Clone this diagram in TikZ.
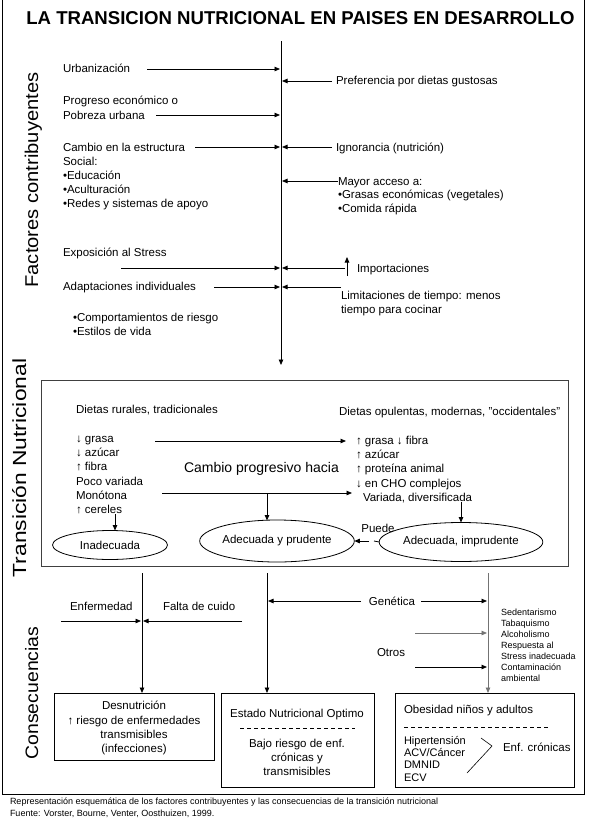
\documentclass[tikz,border=0pt]{standalone}
\usepackage{fontspec}
\setmainfont{Liberation Sans}
\usetikzlibrary{arrows.meta,shapes.geometric}
\newcommand\fsz[2]{\fontsize{#1}{#2}\selectfont}
\begin{document}
\begin{tikzpicture}[x=1pt,y=-1pt,
  every node/.style={inner sep=0pt,outer sep=0pt,font=\fsz{11.5}{14}},
  L/.style={anchor=base west},
  C/.style={anchor=base},
  arr/.style={-{Triangle[length=5.5pt,width=4.5pt]},line width=0.8pt},
  ln/.style={line width=0.8pt},
  side/.style={rotate=90,anchor=base},
  ell/.style={draw,ellipse,line width=0.8pt},
  box/.style={draw,line width=0.8pt,anchor=north west},
  small/.style={L,font=\fsz{9}{11}},
  note/.style={L,font=\fsz{9}{11}}]
\useasboundingbox (0,0) rectangle (589,830);
\draw[ln] (2,0) -- (2,794) -- (584,794) -- (584,0);

% title
\node[C,font=\bfseries\fsz{18.6}{20}] (title) at (300.5,24) {LA TRANSICION NUTRICIONAL EN PAISES EN DESARROLLO};

% side labels
\node[side,font=\fsz{18.5}{20}] (sideA) at (38,180) {\scalebox{1.09}[1]{Factores contribuyentes}};
\node[side,font=\fsz{19}{20}] (sideB) at (26,468) {\scalebox{1.2}[1]{Transición Nutricional}};
\node[side,font=\fsz{18}{20}] (sideC) at (38,693) {\scalebox{1.08}[1]{Consecuencias}};

% main axis
\coordinate (mtop) at (281,41);
\coordinate (mbot) at (281,365);
\draw[arr] (mtop) -- (mbot);

% left factors
\node[L] (urb) at (63,72) {Urbanización};
\coordinate (urbS) at (147,69); \coordinate (urbE) at (280,69);
\draw[arr] (urbS) -- (urbE);

\node[L] (prog1) at (63,104) {Progreso económico o};
\node[L] (prog2) at (63,119) {Pobreza urbana};
\coordinate (progS) at (156,115); \coordinate (progE) at (280,115);
\draw[arr] (progS) -- (progE);

\node[L] (camb1) at (63,151) {Cambio en la estructura};
\node[L] (camb2) at (63,165) {Social:};
\node[L] (camb3) at (63,179) {•Educación};
\node[L] (camb4) at (63,193) {•Aculturación};
\node[L] (camb5) at (63,207) {•Redes y sistemas de apoyo};
\coordinate (cambS) at (195,147); \coordinate (cambE) at (280,147);
\draw[arr] (cambS) -- (cambE);

\node[L] (expo) at (63,256) {Exposición al Stress};
\coordinate (expoS) at (121,268); \coordinate (expoE) at (280,268);
\draw[arr] (expoS) -- (expoE);

\node[L] (adap) at (63,290) {Adaptaciones individuales};
\coordinate (adapS) at (214,287); \coordinate (adapE) at (280,287);
\draw[arr] (adapS) -- (adapE);

\node[L] (comp1) at (73,321) {•Comportamientos de riesgo};
\node[L] (comp2) at (73,335) {•Estilos de vida};

% right factors
\node[L] (pref) at (336,84) {Preferencia por dietas gustosas};
\coordinate (prefS) at (332,81); \coordinate (prefE) at (282,81);
\draw[arr] (prefS) -- (prefE);

\node[L] (ign) at (336,151) {Ignorancia (nutrición)};
\coordinate (ignS) at (332,147); \coordinate (ignE) at (282,147);
\draw[arr] (ignS) -- (ignE);

\node[L] (may1) at (338,185) {Mayor acceso a:};
\node[L] (may2) at (338,198) {•Grasas económicas (vegetales)};
\node[L] (may3) at (338,212) {•Comida rápida};
\coordinate (mayS) at (338,181); \coordinate (mayE) at (282,181);
\draw[arr] (mayS) -- (mayE);

\node[L] (imp) at (357,272) {Importaciones};
\coordinate (impS) at (345,268); \coordinate (impE) at (282,268);
\draw[arr] (impS) -- (impE);
\coordinate (upS) at (347,276); \coordinate (upE) at (347,257);
\draw[arr] (upS) -- (upE);

\node[L] (lim1) at (341,299) {Limitaciones de tiempo: menos};
\node[L] (lim2) at (341,313) {tiempo para cocinar};
\coordinate (limS) at (341,287); \coordinate (limE) at (282,287);
\draw[arr] (limS) -- (limE);

% transition box
\node[box,draw=black!75,minimum width=527pt,minimum height=186pt] (tbox) at (41,380) {};
\node[L] (rural) at (76,413) {Dietas rurales, tradicionales};
\node[L] (opul) at (339,415) {Dietas opulentas, modernas, "occidentales"};

\node[L] (r1) at (76,442) {↓ grasa};
\node[L] (r2) at (76,456) {↓ azúcar};
\node[L] (r3) at (76,470) {↑ fibra};
\node[L] (r4) at (76,485) {Poco variada};
\node[L] (r5) at (76,499) {Monótona};
\node[L] (r6) at (76,513) {↑ cereles};

\node[L] (o1) at (356,444) {↑ grasa ↓ fibra};
\node[L] (o2) at (356,458) {↑ azúcar};
\node[L] (o3) at (356,472) {↑ proteína animal};
\node[L] (o4) at (356,487) {↓ en CHO complejos};
\node[L] (o5) at (363,501) {Variada, diversificada};

\node[L,font=\fsz{14}{16}] (prog) at (184,472) {Cambio progresivo hacia};

\coordinate (a1S) at (155,441); \coordinate (a1E) at (346,441);
\draw[arr] (a1S) -- (a1E);
\coordinate (a2S) at (162,493); \coordinate (a2E) at (352,493);
\draw[arr] (a2S) -- (a2E);

\node[ell,minimum width=115pt,minimum height=29pt] (inad) at (110,545) {Inadecuada};
\node[ell,minimum width=140pt,minimum height=42pt] (adec) at (277,541) {Adecuada y prudente};
\node[ell,minimum width=133pt,minimum height=39pt] (impr) at (461,542) {Adecuada, imprudente};

\coordinate (a2B) at (267,493); \coordinate (a2T) at (267,520.5);
\draw[arr] (a2B) -- (a2T);
\coordinate (cerS) at (115,514);
\draw[arr] (cerS) -- (cerS |- inad.north);
\coordinate (varS) at (461,502);
\draw[arr] (varS) -- (impr.north);

\node[C] (puede) at (378,532) {Puede};
\coordinate (gapA) at (374,541); \coordinate (gapB) at (369,541);
\draw[ln] (impr.west) -- (gapA);
\draw[arr] (gapB) -- (adec.east);

% consequences
\node[box,minimum width=160pt,minimum height=67pt] (b1) at (54,693) {};
\node[box,minimum width=153pt,minimum height=94pt] (b2) at (221,693) {};
\node[box,minimum width=179pt,minimum height=94pt] (b3) at (395,693) {};

\coordinate (v1) at (142,573); \coordinate (v2) at (267,573); \coordinate (v3) at (488,573);
\draw[arr] (v1) -- (v1 |- b1.north);
\draw[arr] (v2) -- (v2 |- b2.north);
\draw[arr,draw=black!55,fill=black!55] (v3) -- (v3 |- b3.north);

\node[L] (enf) at (70,610) {Enfermedad};
\node[L] (falta) at (163,610) {Falta de cuido};
\coordinate (enfS) at (61,621); \coordinate (enfE) at (141,621);
\draw[arr] (enfS) -- (enfE);
\coordinate (faltaS) at (242,621); \coordinate (faltaE) at (143,621);
\draw[arr] (faltaS) -- (faltaE);

\node[C] (gen) at (392,605) {Genética};
\coordinate (genL) at (361,601); \coordinate (genLE) at (268,601);
\draw[arr] (genL) -- (genLE);
\coordinate (genR) at (421,601); \coordinate (genRE) at (487,601);
\draw[arr] (genR) -- (genRE);

\node[L] (otros) at (377,656) {Otros};
\coordinate (o1S) at (415,633); \coordinate (o1E) at (487,633);
\draw[arr,draw=black!55,fill=black!55] (o1S) -- (o1E);
\coordinate (o2S) at (415,667); \coordinate (o2E) at (487,667);
\draw[arr] (o2S) -- (o2E);

\node[small] (s1) at (501,615) {Sedentarismo};
\node[small] (s2) at (501,626) {Tabaquismo};
\node[small] (s3) at (501,637) {Alcoholismo};
\node[small] (s4) at (501,648) {Respuesta al};
\node[small] (s5) at (501,659) {Stress inadecuada};
\node[small] (s6) at (501,670) {Contaminación};
\node[small] (s7) at (501,681) {ambiental};

% box 1
\node[C] (d1) at (134,709) {Desnutrición};
\node[C] (d2) at (134,724) {↑ riesgo de enfermedades};
\node[C] (d3) at (134,738) {transmisibles};
\node[C] (d4) at (134,752) {(infecciones)};

% box 2
\node[C] (e1) at (297,717) {Estado Nutricional Optimo};
\coordinate (e2S) at (240,728); \coordinate (e2E) at (355,728);
\draw[line width=0.6pt,dash pattern=on 3.5pt off 3.5pt] (e2S) -- (e2E);
\node[C] (e3) at (297,747) {Bajo riesgo de enf.};
\node[C] (e4) at (297,761) {crónicas y};
\node[C] (e5) at (297,775) {transmisibles};

% box 3
\node[L] (ob) at (404,713) {Obesidad niños y adultos};
\coordinate (obS) at (404,727); \coordinate (obE) at (551,727);
\draw[line width=0.6pt,dash pattern=on 3.5pt off 3.5pt] (obS) -- (obE);
\node[L,font=\fsz{11}{12}] (h1) at (404,744) {Hipertensión};
\node[L,font=\fsz{11}{12}] (h2) at (404,756) {ACV/Cáncer};
\node[L,font=\fsz{11}{12}] (h3) at (404,768) {DMNID};
\node[L,font=\fsz{11}{12}] (h4) at (404,781) {ECV};
\coordinate (br1) at (481,738); \coordinate (br2) at (492,746); \coordinate (br3) at (467,773);
\draw[line width=0.6pt] (br1) -- (br2) -- (br3);
\node[L] (cron) at (503,751) {Enf. crónicas};

% footnote
\node[note] (fn1) at (10,804) {Representación esquemática de los factores contribuyentes y las consecuencias de la transición nutricional};
\node[note] (fn2) at (10,816) {Fuente: Vorster, Bourne, Venter, Oosthuizen, 1999.};
\end{tikzpicture}
\end{document}
